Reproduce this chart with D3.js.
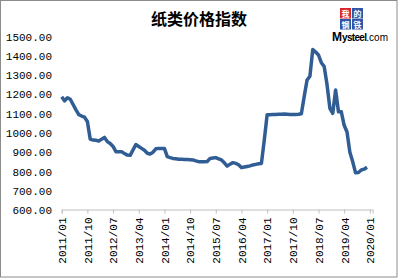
<!DOCTYPE html>
<html lang="zh">
<head>
  <meta charset="UTF-8">
  <title>纸类价格指数</title>
  <script src="https://d3js.org/d3.v7.min.js"></script>
  <style>
    body { margin: 0; background: #fff; }
    svg { display: block; }
    .tick text { font-family: "Liberation Mono", "DejaVu Sans Mono", monospace; font-size: 11px; fill: #000; }
  </style>
</head>
<body>
  <svg id="chart" width="398" height="278"></svg>
  <script>
    // monthly index, starting 2011/01
    const startYear = 2011;
    const values = [
      1188, 1167, 1183, 1175, 1148, 1120, 1095, 1088, 1082, 1060, 968, 963,
      962, 958, 968, 977, 955, 945, 930, 903, 903, 903, 893, 885,
      884, 912, 940, 930, 920, 910, 895, 891, 900, 918, 920, 920,
      920, 877, 872, 868, 866, 864, 863, 862, 862, 861, 860, 855,
      851, 851, 851, 852, 868, 870, 872, 866, 860, 845, 828, 838,
      846, 842, 835, 820, 823, 826, 829, 834, 837, 840, 842, 963,
      1095, 1095, 1096, 1096, 1097, 1097, 1098, 1097, 1096, 1096, 1096, 1097,
      1100, 1190, 1275, 1295, 1434, 1420, 1405, 1365, 1345, 1250, 1128, 1102,
      1223, 1110, 1110, 1040, 1005, 900, 850, 793, 795, 808, 812, 822
    ];
    const xTickMonths = [0, 9, 18, 27, 36, 45, 54, 63, 72, 81, 90, 99, 108];
    const xTickLabels = ["2011/01", "2011/10", "2012/07", "2013/04", "2014/01", "2014/10",
                         "2015/07", "2016/04", "2017/01", "2017/10", "2018/07", "2019/04", "2020/01"];
    const yTicks = [600, 700, 800, 900, 1000, 1100, 1200, 1300, 1400, 1500];

    const svg = d3.select("#chart");

    // outer frame
    svg.append("rect")
      .attr("x", 0.5).attr("y", 0.5)
      .attr("width", 396.5).attr("height", 276.5)
      .attr("fill", "#fff")
      .attr("stroke", "#8c8c8c");

    const x = d3.scaleLinear().domain([0, 109]).range([61.7, 372.7]);
    const y = d3.scaleLinear().domain([600, 1500]).range([210, 36.7]);

    // y axis labels only
    const yAxis = svg.append("g")
      .attr("transform", "translate(52,0)")
      .call(d3.axisLeft(y).tickValues(yTicks).tickSize(0).tickPadding(0)
        .tickFormat(d3.format(".2f")));
    yAxis.select(".domain").remove();

    // x axis
    const xAxis = svg.append("g")
      .attr("transform", "translate(0,209.5)")
      .call(d3.axisBottom(x).tickValues(xTickMonths).tickSize(4)
        .tickFormat((d, i) => xTickLabels[i]));
    xAxis.select(".domain").attr("stroke", "#bfbfbf");
    xAxis.selectAll(".tick line").attr("stroke", "#bfbfbf");
    xAxis.selectAll(".tick text")
      .attr("transform", "rotate(-90)")
      .attr("text-anchor", "end")
      .attr("x", -8)
      .attr("y", 0)
      .attr("dy", "0.35em");

    // series
    const line = d3.line()
      .x((d, i) => x(i))
      .y(d => y(d));

    svg.append("path")
      .datum(values)
      .attr("fill", "none")
      .attr("stroke", "#305d94")
      .attr("stroke-width", 3.5)
      .attr("stroke-linejoin", "round")
      .attr("d", line);

    // title
    svg.append("text")
      .attr("x", 199)
      .attr("y", 25)
      .attr("text-anchor", "middle")
      .style("font-family", "'Noto Sans CJK SC', sans-serif")
      .style("font-size", "16px")
      .style("font-weight", "bold")
      .text("纸类价格指数");

    // Mysteel logo
    const logo = svg.append("g").attr("transform", "translate(340,8)");
    const blocks = [
      { ch: "我", c: "#d9262c", dx: 0, dy: 0 },
      { ch: "的", c: "#2f56a6", dx: 12, dy: 0 },
      { ch: "钢", c: "#2f56a6", dx: 0, dy: 11 },
      { ch: "铁", c: "#2f56a6", dx: 12, dy: 11 }
    ];
    blocks.forEach(b => {
      logo.append("rect").attr("x", b.dx).attr("y", b.dy)
        .attr("width", 11).attr("height", 10.5).attr("fill", b.c);
      logo.append("text").attr("x", b.dx + 5.5).attr("y", b.dy + 8.5)
        .attr("text-anchor", "middle")
        .style("font-family", "'Noto Sans CJK SC', sans-serif")
        .style("font-size", "8px").style("font-weight", "bold")
        .attr("fill", "#fff").text(b.ch);
    });
    const mt = svg.append("text")
      .attr("x", 332).attr("y", 41)
      .style("font-family", "'Liberation Sans', Arial, sans-serif")
      .attr("fill", "#000");
    mt.append("tspan").style("font-size", "12px").style("font-weight", "bold").text("M");
    mt.append("tspan").style("font-size", "10px").style("font-weight", "bold").attr("textLength", 25).text("ysteel");
    mt.append("tspan").style("font-size", "10px").text(".com");
  </script>
</body>
</html>
